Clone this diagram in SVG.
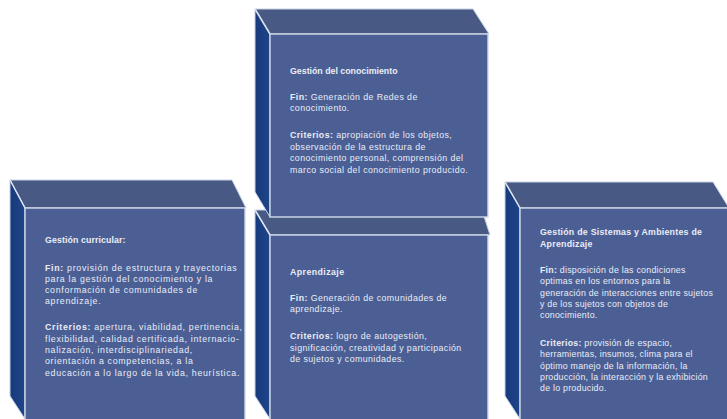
<svg xmlns="http://www.w3.org/2000/svg" width="727" height="419" viewBox="0 0 727 419">
<defs>
<linearGradient id="sideG" x1="0" y1="0" x2="1" y2="0">
<stop offset="0" stop-color="#173a7c"/>
<stop offset="1" stop-color="#1f4488"/>
</linearGradient>
<style>
.top{fill:#485a84;stroke:#c6d2e6;stroke-width:1}
.side{fill:url(#sideG);stroke:#c6d2e6;stroke-width:1}
.front{fill:#4b5f95;stroke:#d0daec;stroke-width:1.4}
.edge{stroke:#dbe3f1;stroke-width:1.5;fill:none}
text{font-family:"Liberation Sans",Arial,sans-serif;font-size:8.8px;fill:#e9edf6}
.b{font-weight:bold}
.ls1{letter-spacing:0.42px}
.ls2{letter-spacing:0.7px}
.ls3{letter-spacing:0.25px}
</style>
</defs>
<rect width="727" height="419" fill="#ffffff"/>

<g id="aprendizaje">
<polygon class="top" points="255,210 482,210 490,235 270,235"/>
<polygon class="side" points="255,210 270,235 270,419 255,396"/>
<rect class="front" x="270" y="235" width="218" height="186"/>
<line class="edge" x1="255" y1="210" x2="270" y2="235"/>
<text class="ls1">
<tspan class="b" x="290" y="275">Aprendizaje</tspan>
<tspan x="290" y="301"><tspan class="b">Fin:</tspan> Generación de comunidades de</tspan>
<tspan x="290" y="312">aprendizaje.</tspan>
<tspan x="290" y="339"><tspan class="b">Criterios:</tspan> logro de autogestión,</tspan>
<tspan x="290" y="351">significación, creatividad y participación</tspan>
<tspan x="290" y="362">de sujetos y comunidades.</tspan>
</text>
</g>

<g id="gestion-conocimiento">
<polygon class="top" points="255,9 473,9 489,34 270,34"/>
<polygon class="side" points="255,9 270,34 270,217 255,192"/>
<rect class="front" x="270" y="34" width="218" height="183"/>
<line class="edge" x1="255" y1="9" x2="270" y2="34"/>
<text class="ls1">
<tspan class="b" x="290" y="74" style="letter-spacing:0">Gestión del conocimiento</tspan>
<tspan x="290" y="100"><tspan class="b">Fin:</tspan> Generación de Redes de</tspan>
<tspan x="290" y="111">conocimiento.</tspan>
<tspan x="290" y="138"><tspan class="b">Criterios:</tspan> apropiación de los objetos,</tspan>
<tspan x="290" y="150">observación de la estructura de</tspan>
<tspan x="290" y="161">conocimiento personal, comprensión del</tspan>
<tspan x="290" y="173">marco social del conocimiento producido.</tspan>
</text>
</g>

<g id="gestion-curricular">
<polygon class="top" points="10,180 232,180 246,208 25,208"/>
<polygon class="side" points="10,180 25,208 25,419 10,396"/>
<rect class="front" x="25" y="208" width="220" height="213"/>
<line class="edge" x1="10" y1="180" x2="25" y2="208"/>
<text class="ls2">
<tspan class="b" x="45" y="243" style="letter-spacing:0.1px">Gestión curricular:</tspan>
<tspan x="45" y="271"><tspan class="b">Fin:</tspan> provisión de estructura y trayectorias</tspan>
<tspan x="45" y="282">para la gestión del conocimiento y la</tspan>
<tspan x="45" y="293">conformación de comunidades de</tspan>
<tspan x="45" y="304">aprendizaje.</tspan>
<tspan x="45" y="330"><tspan class="b">Criterios:</tspan> apertura, viabilidad, pertinencia,</tspan>
<tspan x="45" y="342">flexibilidad, calidad certificada, internacio-</tspan>
<tspan x="45" y="353">nalización, interdisciplinariedad,</tspan>
<tspan x="45" y="364">orientación a competencias, a la</tspan>
<tspan x="45" y="376">educación a lo largo de la vida, heurística.</tspan>
</text>
</g>

<g id="gestion-sistemas">
<polygon class="top" points="505,182 713,182 729,208 520,208"/>
<polygon class="side" points="505,182 520,208 520,419 505,396"/>
<rect class="front" x="520" y="208" width="210" height="213"/>
<line class="edge" x1="505" y1="182" x2="520" y2="208"/>
<text class="ls3">
<tspan class="b" x="540" y="235">Gestión de Sistemas y Ambientes de</tspan>
<tspan class="b" x="540" y="247">Aprendizaje</tspan>
<tspan x="540" y="273"><tspan class="b">Fin:</tspan> disposición de las condiciones</tspan>
<tspan x="540" y="284">optimas en los entornos para la</tspan>
<tspan x="540" y="296">generación de interacciones entre sujetos</tspan>
<tspan x="540" y="307">y de los sujetos con objetos de</tspan>
<tspan x="540" y="318">conocimiento.</tspan>
<tspan x="540" y="346"><tspan class="b">Criterios:</tspan> provisión de espacio,</tspan>
<tspan x="540" y="357">herramientas, insumos, clima para el</tspan>
<tspan x="540" y="369">óptimo manejo de la información, la</tspan>
<tspan x="540" y="380">producción, la interacción y la exhibición</tspan>
<tspan x="540" y="391">de lo producido.</tspan>
</text>
</g>

<g id="connectors"></g>
</svg>
